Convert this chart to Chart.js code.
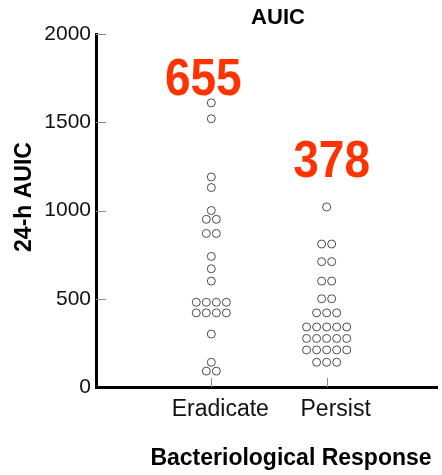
<!DOCTYPE html>
<html>
<head>
<meta charset="utf-8">
<script src="https://cdn.jsdelivr.net/npm/chart.js@4/dist/chart.umd.min.js"></script>
<style>
  html, body { margin: 0; padding: 0; background: #fff; }
  #wrap { width: 442px; height: 475px; }
</style>
</head>
<body>
<div id="wrap"><canvas id="auic-chart"></canvas></div>
<script>
// groups on the x axis
const categories = ['Eradicate', 'Persist'];

// 24-h AUIC per patient
const eradicateAUIC = [1610, 1520, 1190, 1130, 1000, 950, 950, 870, 870, 740, 670, 600,
    480, 480, 480, 480, 420, 420, 420, 420, 300, 140, 90, 90];
const persistAUIC = [1020, 810, 810, 710, 710, 600, 600, 500, 500, 420, 420, 420,
    340, 340, 340, 340, 340, 275, 275, 275, 275, 275, 210, 210, 210, 210, 210, 140, 140, 140];

// group summary printed above each column
const groupSummary = ['655', '378'];

const yTicks = [0, 500, 1000, 1500, 2000];

const FONT = 'Arial, "Liberation Sans", Helvetica, sans-serif';
const DOT_GAP = 0.087; // horizontal gap between tied values, in x units

// lay tied values side by side around the group centre
function spread(values, center) {
    const counts = {};
    values.forEach(v => { counts[v] = (counts[v] || 0) + 1; });
    const seen = {};
    return values.map(v => {
        const n = counts[v];
        seen[v] = (seen[v] === undefined) ? 0 : seen[v] + 1;
        return { x: center + (seen[v] - (n - 1) / 2) * DOT_GAP, y: v };
    });
}

// text and inward tick marks drawn on top of the chart
const decorations = {
    id: 'decorations',
    afterDraw(chart) {
        const { ctx, chartArea, scales } = chart;
        const x = scales.x, y = scales.y;
        ctx.save();

        // short inward ticks
        ctx.strokeStyle = '#8a8a8a';
        ctx.lineWidth = 1;
        ctx.beginPath();
        yTicks.slice(1).forEach(v => {
            const py = Math.round(y.getPixelForValue(v)) + 0.5;
            ctx.moveTo(chartArea.left, py);
            ctx.lineTo(chartArea.left + 10, py);
        });
        categories.forEach((c, i) => {
            const px = Math.round(x.getPixelForValue(i + 1)) + 0.5;
            ctx.moveTo(px, chartArea.bottom);
            ctx.lineTo(px, chartArea.bottom - 9);
        });
        ctx.stroke();

        ctx.fillStyle = '#000';
        ctx.textAlign = 'center';
        ctx.textBaseline = 'middle';

        ctx.font = 'bold 22px ' + FONT;
        ctx.fillText('AUIC', 278, 18);

        ctx.font = 'bold 23px ' + FONT;
        ctx.fillText('Bacteriological Response', 291, 459);

        ctx.save();
        ctx.translate(25, 197);
        ctx.rotate(-Math.PI / 2);
        ctx.fillText('24-h AUIC', 0, 0);
        ctx.restore();

        // group summaries in red, slightly stretched upward from the baseline
        ctx.fillStyle = '#ff3300';
        ctx.font = 'bold 46px ' + FONT;
        ctx.textBaseline = 'alphabetic';
        const shifts = [-8, 5];
        const baselines = [95, 177];
        groupSummary.forEach((t, i) => {
            ctx.save();
            ctx.translate(x.getPixelForValue(i + 1) + shifts[i], baselines[i]);
            ctx.scale(1, 1.14);
            ctx.fillText(t, 0, 0);
            ctx.restore();
        });

        ctx.restore();
    }
};

const dotStyle = {
    pointStyle: 'circle',
    pointRadius: 4,
    pointHoverRadius: 4,
    pointBorderWidth: 1,
    pointBorderColor: '#4a4a4a',
    pointBackgroundColor: 'rgba(0,0,0,0)',
    showLine: false
};

new Chart(document.getElementById('auic-chart'), {
    type: 'scatter',
    data: {
        datasets: [
            Object.assign({ label: categories[0], data: spread(eradicateAUIC, 1) }, dotStyle),
            Object.assign({ label: categories[1], data: spread(persistAUIC, 2) }, dotStyle)
        ]
    },
    options: {
        responsive: true,
        maintainAspectRatio: false,
        animation: false,
        layout: { padding: { top: 34, right: 0, left: 0, bottom: 0 } },
        plugins: {
            legend: { display: false },
            title: { display: false },
            tooltip: { enabled: false }
        },
        scales: {
            x: {
                type: 'linear',
                min: 0,
                max: 2.957,
                afterBuildTicks: s => { s.ticks = categories.map((c, i) => ({ value: i + 1 })); },
                afterFit: s => { s.height = 88; },
                grid: { drawOnChartArea: false, drawTicks: false },
                border: { display: true, color: '#000', width: 3 },
                ticks: {
                    padding: 9,
                    labelOffset: 9,
                    color: '#111',
                    font: { family: FONT, size: 23 },
                    callback: v => categories[v - 1] || ''
                }
            },
            y: {
                min: 0,
                max: 2000,
                afterBuildTicks: s => { s.ticks = yTicks.map(v => ({ value: v })); },
                afterFit: s => { s.width = 96; },
                grid: { drawOnChartArea: false, drawTicks: false },
                border: { display: true, color: '#000', width: 3 },
                ticks: {
                    padding: 5,
                    color: '#111',
                    font: { family: FONT, size: 21 },
                    callback: v => String(v)
                }
            }
        }
    },
    plugins: [decorations]
});
</script>
</body>
</html>
